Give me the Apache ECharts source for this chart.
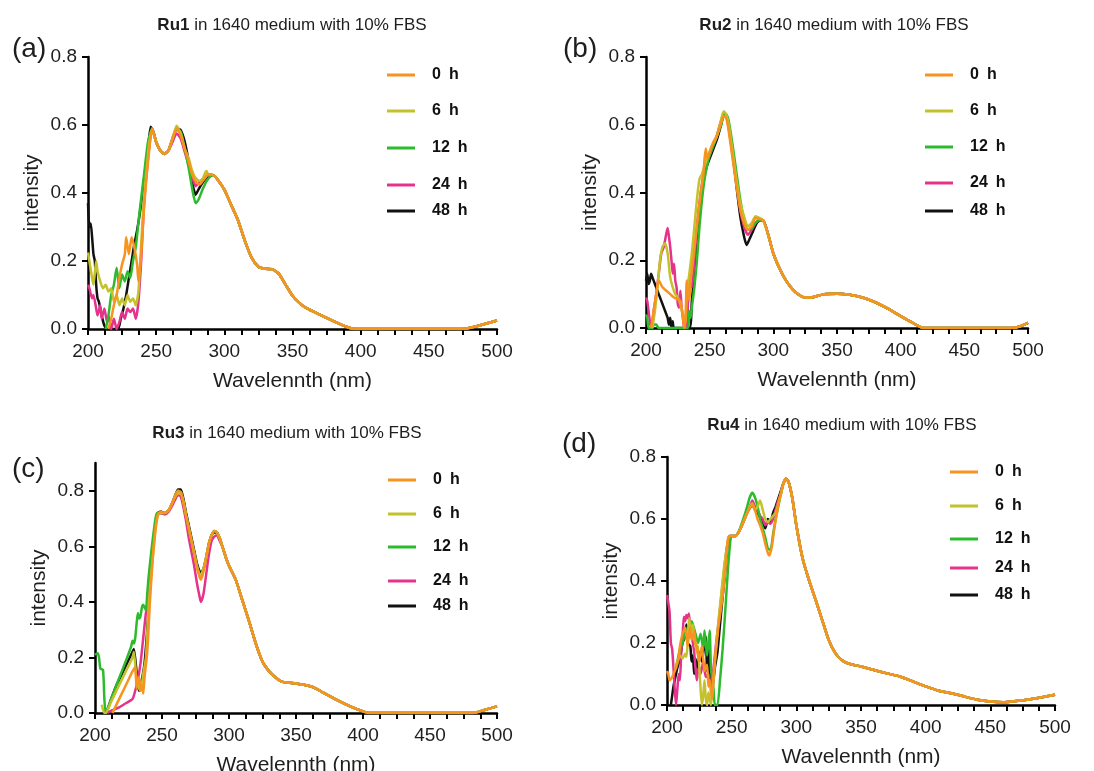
<!DOCTYPE html>
<html><head><meta charset="utf-8">
<script src="https://cdn.jsdelivr.net/npm/echarts@6/dist/echarts.min.js"></script>
<style>html,body{margin:0;padding:0;background:#fff;overflow:hidden}#c{width:1094px;height:771px}</style>
</head><body><div id="c"></div>
<script>
const seriesNames = ['0 h', '6 h', '12 h', '24 h', '48 h'];
const seriesColors = ['#F7931E', '#C3C22C', '#2DBB2D', '#E5328A', '#111111'];
const compounds = ['Ru1', 'Ru2', 'Ru3', 'Ru4'];
const panelLabels = ['(a)', '(b)', '(c)', '(d)'];
const titleRest = ' in 1640 medium with 10% FBS';
const xLabel = 'Wavelennth (nm)';
const yLabel = 'intensity';
const xTicks = [200, 250, 300, 350, 400, 450, 500];
const yTicks = [0, 0.2, 0.4, 0.6, 0.8];

// ---------- Ru1 ----------
const ru1Tail = [[292,0.452],[295,0.44],[300,0.41],[305,0.365],[310,0.32],[315,0.26],[320,0.21],[325,0.183],[330,0.177],[335,0.176],[340,0.162],[345,0.13],[350,0.098],[355,0.077],[360,0.062],[370,0.042],[380,0.023],[390,0.006],[396,0],[475,0],[485,0.008],[500,0.025]];
const ru1_0h = [[215,0],[217,0.03],[219,0.07],[221,0.1],[223,0.15],[225,0.19],[227,0.22],[228,0.27],[230,0.22],[232,0.27],[234,0.24],[236,0.19],[237,0.14],[239,0.22],[241,0.35],[243,0.45],[245,0.53],[247,0.59],[250,0.55],[253,0.525],[256,0.515],[259,0.525],[262,0.56],[265,0.59],[268,0.57],[271,0.53],[274,0.49],[276,0.46],[278,0.44],[280,0.43],[282,0.425],[284,0.435],[286,0.445],[288,0.455],[290,0.455]];
const ru1_6h = [[200,0.225],[201,0.2],[203,0.15],[204,0.13],[206,0.2],[207,0.17],[209,0.14],[211,0.12],[213,0.13],[215,0.11],[217,0.12],[219,0.08],[221,0.1],[223,0.07],[225,0.09],[227,0.07],[229,0.1],[231,0.08],[233,0.09],[235,0.07],[237,0.11],[239,0.25],[241,0.38],[243,0.47],[245,0.55],[247,0.585],[250,0.55],[253,0.525],[256,0.515],[259,0.525],[262,0.56],[265,0.598],[268,0.575],[271,0.53],[274,0.5],[276,0.47],[278,0.45],[280,0.44],[282,0.435],[284,0.44],[286,0.46],[287,0.465],[288,0.455],[290,0.455]];
const ru1_12h = [[213,0],[215,0.04],[217,0.1],[219,0.13],[221,0.18],[223,0.12],[225,0.16],[227,0.14],[229,0.17],[231,0.15],[233,0.2],[235,0.24],[238,0.35],[241,0.45],[244,0.55],[247,0.59],[250,0.55],[253,0.525],[256,0.515],[259,0.525],[262,0.56],[265,0.585],[268,0.58],[271,0.53],[274,0.47],[277,0.4],[279,0.37],[281,0.38],[284,0.41],[287,0.435],[290,0.45]];
const ru1_24h = [[200,0.13],[201,0.12],[203,0.09],[204,0.1],[206,0.06],[207,0.04],[209,0.07],[210,0.03],[212,0.06],[214,0.02],[215,0.04],[217,0],[219,0.03],[221,0],[223,0.02],[225,0.05],[227,0.03],[229,0.06],[231,0.05],[233,0.06],[235,0.03],[237,0.08],[239,0.2],[241,0.36],[244,0.5],[247,0.59],[250,0.55],[253,0.525],[256,0.515],[259,0.525],[262,0.55],[265,0.575],[268,0.56],[271,0.52],[274,0.48],[277,0.44],[279,0.42],[281,0.43],[284,0.44],[287,0.45],[290,0.452]];
const ru1_48h = [[200,0.37],[201,0.3],[202,0.31],[203,0.27],[204,0.22],[205,0.2],[206,0.13],[207,0.09],[208,0.08],[210,0.04],[212,0.01],[214,0],[222,0],[224,0.03],[226,0.06],[228,0.1],[230,0.15],[232,0.2],[234,0.25],[236,0.29],[238,0.34],[240,0.4],[242,0.47],[244,0.53],[246,0.595],[248,0.58],[250,0.55],[253,0.525],[256,0.515],[259,0.525],[262,0.56],[265,0.59],[268,0.585],[271,0.55],[274,0.49],[277,0.42],[279,0.395],[281,0.41],[284,0.43],[287,0.445],[290,0.452]];

// ---------- Ru2 ----------
const ru2Tail = [[292,0.318],[296,0.275],[300,0.22],[305,0.175],[310,0.14],[315,0.115],[320,0.098],[325,0.09],[330,0.09],[335,0.095],[340,0.1],[350,0.101],[360,0.098],[370,0.09],[380,0.076],[390,0.057],[400,0.035],[410,0.014],[418,0],[488,0],[494,0.005],[500,0.015]];
const ru2_0h = [[204,0],[206,0.05],[208,0.1],[210,0.14],[213,0.12],[216,0.11],[219,0.1],[222,0.09],[225,0.085],[227,0.08],[229,0.03],[230,0],[231,0.02],[232,0.14],[233,0.11],[234,0.08],[235,0.14],[237,0.2],[240,0.3],[243,0.4],[245,0.45],[246,0.5],[247,0.53],[248,0.5],[250,0.52],[253,0.55],[256,0.57],[259,0.605],[261,0.625],[263,0.62],[265,0.58],[268,0.5],[271,0.42],[274,0.35],[277,0.31],[280,0.29],[283,0.3],[286,0.325],[289,0.322]];
const ru2_6h = [[205,0],[207,0.05],[209,0.12],[211,0.2],[213,0.24],[215,0.25],[217,0.22],[219,0.15],[221,0.12],[223,0.1],[225,0.09],[227,0.07],[229,0.04],[231,0.02],[232,0.1],[234,0.16],[236,0.22],[238,0.3],[240,0.38],[242,0.44],[244,0.455],[246,0.48],[249,0.51],[252,0.54],[255,0.56],[258,0.6],[261,0.64],[263,0.63],[265,0.6],[268,0.52],[271,0.44],[274,0.37],[277,0.33],[280,0.3],[283,0.31],[286,0.33],[289,0.325]];
const ru2_12h = [[200,0.04],[201,0.03],[202,0],[205,0],[206,0.01],[208,0.01],[210,0],[233,0],[234,0.05],[235,0.03],[236,0.06],[238,0.12],[240,0.2],[242,0.3],[244,0.38],[246,0.44],[248,0.48],[250,0.51],[253,0.54],[256,0.57],[259,0.6],[261,0.625],[263,0.63],[265,0.61],[268,0.54],[271,0.46],[274,0.38],[277,0.32],[280,0.29],[283,0.295],[286,0.31],[289,0.318]];
const ru2_24h = [[200,0.09],[201,0.08],[203,0.02],[204,0],[206,0.05],[208,0.1],[210,0.16],[212,0.22],[214,0.24],[216,0.28],[217,0.295],[218,0.27],[219,0.24],[220,0.2],[221,0.16],[222,0.19],[223,0.14],[224,0.12],[225,0.07],[226,0.06],[227,0.11],[228,0.06],[229,0.03],[230,0],[232,0],[233,0.08],[234,0.14],[236,0.12],[238,0.2],[240,0.3],[243,0.4],[246,0.47],[249,0.5],[252,0.53],[255,0.56],[258,0.6],[261,0.63],[263,0.625],[265,0.59],[268,0.51],[271,0.43],[274,0.35],[277,0.3],[280,0.275],[283,0.29],[286,0.31],[289,0.318]];
const ru2_48h = [[200,0.14],[201,0.16],[202,0.13],[203,0.14],[204,0.16],[205,0.15],[207,0.13],[209,0.11],[211,0.09],[213,0.07],[215,0.05],[217,0.03],[218,0.01],[219,0.03],[220,0],[221,0.02],[222,0],[234,0],[236,0.08],[238,0.16],[240,0.25],[242,0.33],[244,0.4],[246,0.45],[248,0.48],[250,0.5],[253,0.53],[256,0.56],[259,0.6],[261,0.63],[263,0.63],[265,0.6],[268,0.52],[271,0.42],[274,0.33],[277,0.27],[279,0.245],[281,0.26],[284,0.285],[287,0.31],[290,0.318]];

// ---------- Ru3 ----------
const ru3Tail = [[295,0.6],[298,0.555],[300,0.53],[305,0.48],[310,0.405],[315,0.33],[320,0.25],[325,0.185],[330,0.15],[335,0.127],[340,0.112],[350,0.106],[360,0.097],[365,0.088],[370,0.074],[380,0.048],[390,0.025],[400,0.006],[405,0],[482,0],[490,0.01],[500,0.024]];
const ru3_0h = [[213,0],[216,0.03],[220,0.07],[224,0.11],[228,0.15],[230,0.165],[231,0.09],[232,0.11],[233,0.13],[234,0.08],[235,0.1],[236,0.07],[237,0.13],[239,0.22],[241,0.4],[243,0.55],[245,0.66],[247,0.715],[249,0.725],[252,0.72],[255,0.73],[258,0.76],[260,0.785],[262,0.8],[264,0.795],[266,0.76],[268,0.71],[270,0.665],[272,0.62],[274,0.575],[276,0.525],[278,0.49],[279,0.48],[281,0.51],[283,0.56],[285,0.61],[287,0.64],[289,0.655],[291,0.65],[293,0.63]];
const ru3_6h = [[205,0.03],[207,0],[208,0],[212,0.04],[216,0.08],[220,0.12],[224,0.16],[228,0.2],[229,0.22],[231,0.12],[232,0.1],[234,0.08],[236,0.14],[238,0.2],[240,0.38],[242,0.5],[244,0.6],[246,0.69],[248,0.72],[252,0.72],[255,0.73],[258,0.76],[260,0.78],[262,0.79],[264,0.79],[266,0.76],[268,0.71],[270,0.665],[272,0.62],[274,0.575],[276,0.53],[278,0.5],[279,0.495],[281,0.52],[283,0.56],[285,0.61],[287,0.64],[289,0.655],[291,0.65],[293,0.63]];
const ru3_12h = [[200,0.21],[202,0.215],[203,0.2],[204,0.16],[206,0.155],[207,0.05],[208,0],[212,0.05],[216,0.1],[220,0.15],[224,0.2],[227,0.24],[228,0.26],[229,0.25],[230,0.27],[231,0.32],[232,0.36],[233,0.34],[234,0.35],[235,0.38],[236,0.39],[237,0.38],[238,0.37],[239,0.43],[240,0.49],[242,0.58],[244,0.66],[246,0.72],[248,0.72],[252,0.72],[255,0.73],[258,0.76],[260,0.785],[262,0.8],[264,0.795],[266,0.76],[268,0.71],[270,0.665],[272,0.62],[274,0.575],[276,0.53],[278,0.5],[279,0.495],[281,0.52],[283,0.56],[285,0.61],[287,0.64],[289,0.655],[291,0.65],[293,0.63]];
const ru3_24h = [[209,0],[213,0.01],[218,0.02],[223,0.035],[228,0.05],[230,0.08],[232,0.12],[234,0.18],[236,0.27],[238,0.36],[240,0.42],[242,0.55],[244,0.63],[246,0.7],[248,0.72],[252,0.715],[255,0.725],[258,0.75],[260,0.77],[262,0.785],[264,0.78],[266,0.74],[268,0.69],[270,0.63],[272,0.58],[274,0.53],[276,0.47],[278,0.42],[279,0.4],[281,0.43],[283,0.5],[285,0.57],[287,0.62],[289,0.635],[291,0.64],[293,0.62]];
const ru3_48h = [[207,0.01],[208,0],[212,0.05],[216,0.1],[220,0.14],[224,0.18],[228,0.22],[229,0.23],[231,0.15],[232,0.1],[233,0.08],[235,0.12],[237,0.18],[239,0.3],[241,0.45],[243,0.58],[245,0.67],[247,0.72],[249,0.725],[252,0.72],[255,0.73],[258,0.76],[260,0.785],[262,0.805],[264,0.805],[266,0.77],[268,0.72],[270,0.675],[272,0.63],[274,0.585],[276,0.54],[278,0.51],[279,0.505],[281,0.52],[283,0.56],[285,0.61],[287,0.64],[289,0.65],[291,0.65],[293,0.63]];

// ---------- Ru4 ----------
const ru4Tail = [[292,0.73],[294,0.72],[297,0.665],[300,0.58],[305,0.47],[310,0.4],[315,0.338],[320,0.274],[325,0.21],[330,0.168],[335,0.145],[340,0.134],[350,0.124],[360,0.113],[370,0.102],[380,0.092],[390,0.076],[400,0.06],[410,0.046],[420,0.038],[430,0.027],[440,0.017],[450,0.011],[460,0.009],[470,0.013],[480,0.018],[490,0.025],[500,0.033]];
const ru4_0h = [[200,0.11],[201,0.1],[202,0.08],[204,0.09],[205,0.1],[207,0.12],[209,0.15],[210,0.19],[212,0.23],[213,0.24],[214,0.25],[216,0.19],[217,0.23],[218,0.25],[219,0.21],[221,0.24],[222,0.2],[223,0.19],[224,0.16],[225,0.14],[227,0.19],[228,0.15],[229,0.11],[231,0.13],[232,0.06],[233,0.08],[234,0.04],[235,0.02],[236,0.1],[238,0.18],[240,0.26],[243,0.35],[245,0.43],[247,0.53],[248,0.545],[250,0.545],[253,0.545],[256,0.562],[259,0.59],[262,0.62],[264,0.635],[266,0.645],[268,0.63],[270,0.6],[272,0.58],[274,0.555],[276,0.52],[278,0.49],[279,0.482],[281,0.51],[283,0.57],[285,0.62],[287,0.665],[289,0.7],[291,0.725]];
const ru4_6h = [[206,0.12],[208,0.14],[210,0.16],[212,0.15],[214,0.165],[215,0.155],[216,0.2],[217,0.28],[218,0.26],[219,0.24],[220,0.26],[221,0.22],[223,0.17],[224,0.19],[225,0.12],[226,0.05],[227,0],[228,0.03],[229,0.08],[230,0.02],[231,0],[232,0.04],[233,0.02],[234,0],[236,0.08],[238,0.19],[240,0.28],[242,0.36],[244,0.44],[246,0.5],[248,0.545],[250,0.545],[253,0.545],[256,0.562],[259,0.59],[262,0.62],[264,0.64],[266,0.65],[268,0.63],[270,0.64],[272,0.66],[274,0.63],[276,0.6],[278,0.59],[280,0.6],[282,0.61],[284,0.62],[286,0.65],[288,0.68],[290,0.715]];
const ru4_12h = [[208,0.14],[210,0.18],[212,0.2],[214,0.23],[216,0.25],[218,0.22],[219,0.27],[220,0.26],[222,0.23],[224,0.2],[226,0.23],[228,0.18],[229,0.24],[231,0.16],[233,0.24],[234,0.12],[236,0.05],[237,0],[239,0],[241,0.08],[243,0.18],[245,0.3],[247,0.43],[249,0.53],[250,0.545],[253,0.545],[256,0.565],[259,0.6],[262,0.64],[264,0.67],[266,0.685],[268,0.67],[270,0.64],[272,0.6],[274,0.57],[276,0.54],[278,0.505],[280,0.5],[282,0.55],[284,0.6],[286,0.64],[288,0.68],[290,0.715]];
const ru4_24h = [[200,0.355],[201,0.33],[202,0.3],[203,0.2],[204,0.18],[205,0.12],[206,0.05],[207,0],[208,0.05],[209,0.1],[210,0.08],[211,0.17],[212,0.22],[213,0.285],[214,0.27],[215,0.29],[216,0.28],[217,0.295],[218,0.24],[219,0.22],[220,0.2],[221,0.17],[222,0.12],[223,0.08],[224,0.11],[225,0.12],[226,0.1],[228,0.14],[230,0.09],[232,0.1],[234,0.06],[236,0.12],[238,0.2],[240,0.27],[242,0.35],[244,0.43],[246,0.5],[248,0.545],[250,0.545],[253,0.545],[256,0.562],[259,0.59],[262,0.62],[264,0.64],[266,0.66],[268,0.64],[270,0.63],[272,0.61],[274,0.6],[276,0.58],[278,0.59],[280,0.585],[282,0.6],[284,0.63],[286,0.66],[288,0.68],[290,0.715]];
const ru4_48h = [[203,0],[204,0.03],[205,0.06],[207,0.1],[208,0.12],[210,0.15],[212,0.2],[214,0.22],[215,0.26],[216,0.2],[218,0.19],[219,0.14],[220,0.16],[221,0.1],[222,0.15],[224,0.11],[225,0.17],[227,0.14],[229,0.2],[230,0.22],[231,0.11],[232,0.19],[233,0.08],[234,0.1],[235,0.05],[237,0.12],[239,0.17],[241,0.26],[243,0.35],[245,0.43],[247,0.52],[249,0.545],[253,0.545],[256,0.562],[259,0.59],[262,0.62],[264,0.635],[266,0.645],[268,0.63],[270,0.62],[272,0.605],[274,0.59],[276,0.57],[278,0.6],[280,0.59],[282,0.62],[284,0.64],[286,0.665],[288,0.69],[290,0.715]];

const panels = [
  { tail: ru1Tail, heads: [ru1_0h, ru1_6h, ru1_12h, ru1_24h, ru1_48h], yMax: 0.8 },
  { tail: ru2Tail, heads: [ru2_0h, ru2_6h, ru2_12h, ru2_24h, ru2_48h], yMax: 0.8 },
  { tail: ru3Tail, heads: [ru3_0h, ru3_6h, ru3_12h, ru3_24h, ru3_48h], yMax: 0.9 },
  { tail: ru4Tail, heads: [ru4_0h, ru4_6h, ru4_12h, ru4_24h, ru4_48h], yMax: 0.8 }
];

// layout (pixels)
const gridBoxes = [
  { left: 88, top: 57, width: 409, height: 272 },
  { left: 646, top: 57, width: 382, height: 271 },
  { left: 95, top: 463, width: 402, height: 250 },
  { left: 667, top: 457, width: 388, height: 248 }
];
const titlePos = [[292, 17], [834, 17], [287, 425], [842, 417]];
const labelPos = [[12, 35], [563, 35], [12, 455], [562, 430]];
const legendPos = [
  { x: 387, ys: [76, 112, 149, 186, 212] },
  { x: 925, ys: [76, 112, 148, 184, 212] },
  { x: 388, ys: [481, 515, 548, 582, 607] },
  { x: 950, ys: [473, 507, 540, 569, 596] }
];

const FONT = 'Liberation Sans, Arial, Helvetica, sans-serif';
const TXT = '#1e1e1e';

const option = {
  backgroundColor: '#ffffff',
  animation: false,
  textStyle: { fontFamily: FONT },
  grid: gridBoxes.map(g => Object.assign({ containLabel: false, outerBoundsMode: 'none' }, g)),
  title: [],
  legend: [],
  xAxis: [],
  yAxis: [],
  series: []
};

panels.forEach((p, pi) => {
  option.title.push({
    text: '{b|' + compounds[pi] + '}' + titleRest,
    left: titlePos[pi][0], top: titlePos[pi][1], textAlign: 'center', padding: 0,
    textStyle: { fontFamily: FONT, fontSize: 17, fontWeight: 'normal', color: TXT,
      rich: { b: { fontFamily: FONT, fontSize: 17, fontWeight: 'bold', color: TXT } } }
  });
  option.title.push({
    text: panelLabels[pi], left: labelPos[pi][0], top: labelPos[pi][1], padding: 0,
    textStyle: { fontFamily: FONT, fontSize: 28, fontWeight: 'normal', color: TXT }
  });
  option.xAxis.push({
    type: 'value', gridIndex: pi, min: xTicks[0], max: xTicks[xTicks.length - 1], interval: xTicks[1] - xTicks[0],
    name: xLabel, nameLocation: 'middle', nameGap: 42,
    nameTextStyle: { fontFamily: FONT, fontSize: 21, color: TXT },
    axisLine: { show: true, onZero: false, lineStyle: { color: '#000', width: 2.5 } },
    axisTick: { show: true, length: 6, lineStyle: { color: '#000', width: 2 } },
    minorTick: { show: true, splitNumber: 4, length: 6, lineStyle: { color: '#000', width: 2 } },
    splitLine: { show: false }, minorSplitLine: { show: false },
    axisLabel: { fontFamily: FONT, fontSize: 19, color: TXT, margin: 13 }
  });
  option.yAxis.push({
    type: 'value', gridIndex: pi, min: 0, max: p.yMax, interval: 0.2,
    name: yLabel, nameLocation: 'middle', nameGap: 45, nameRotate: 90,
    nameTextStyle: { fontFamily: FONT, fontSize: 21, color: TXT },
    axisLine: { show: true, onZero: false, lineStyle: { color: '#000', width: 2.5 } },
    axisTick: { show: true, length: 6, lineStyle: { color: '#000', width: 2 }, customValues: yTicks },
    splitLine: { show: false },
    axisLabel: { fontFamily: FONT, fontSize: 19, color: TXT, margin: 11, customValues: yTicks,
      formatter: v => v.toFixed(1) }
  });
  // draw 48 h first so 0 h ends on top
  for (let si = seriesNames.length - 1; si >= 0; si--) {
    option.series.push({
      type: 'line', name: seriesNames[si], xAxisIndex: pi, yAxisIndex: pi,
      data: p.heads[si].concat(p.tail),
      showSymbol: false, symbol: 'none', smooth: 0.2, clip: true,
      lineStyle: { color: seriesColors[si], width: 2.5 },
      itemStyle: { color: seriesColors[si] },
      emphasis: { disabled: true }
    });
  }
  seriesNames.forEach((n, si) => {
    option.legend.push({
      data: [n], left: legendPos[pi].x, top: legendPos[pi].ys[si] - 9, padding: 0,
      icon: 'rect', itemWidth: 28, itemHeight: 3, selectedMode: false,
      formatter: name => name.replace(' ', '\u2002'),
      textStyle: { fontFamily: FONT, fontSize: 16, fontWeight: 'bold', color: '#111', padding: [0, 0, 0, 12] }
    });
  });
});

const chart = echarts.init(document.getElementById('c'), null, { renderer: 'canvas' });
chart.setOption(option);
</script>
</body></html>
